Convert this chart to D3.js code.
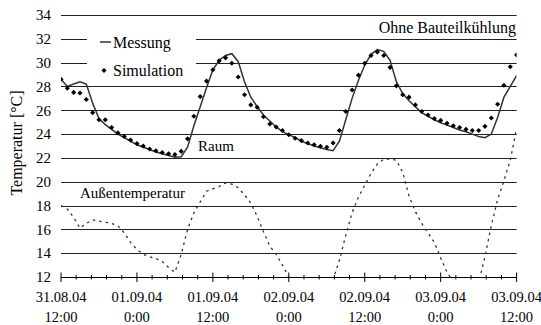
<!DOCTYPE html>
<html>
<head>
<meta charset="utf-8">
<script src="https://cdn.jsdelivr.net/npm/d3@7"></script>
<style>
  body { margin: 0; background: #fff; }
  svg { display: block; }
  text { font-family: "Liberation Serif", "DejaVu Serif", serif; fill: #000; }
</style>
</head>
<body>
<svg id="chart" width="541" height="325"></svg>
<script>
// hourly values from 31.08.04 12:00 to 03.09.04 12:00 (72 h)
const messung = [
  28.6, 28.0, 28.2, 28.4, 28.2, 26.6, 25.3, 24.8, 24.4, 24.0,
  23.7, 23.4, 23.1, 22.9, 22.7, 22.5, 22.35, 22.2, 22.05, 22.1,
  22.9, 24.7, 26.3, 27.9, 29.4, 30.2, 30.6, 30.75, 30.1, 28.4,
  27.1, 26.3, 25.6, 25.1, 24.6, 24.2, 23.95, 23.7, 23.4, 23.2,
  23.0, 22.85, 22.7, 22.6, 23.4, 25.2, 27.0, 28.5, 29.8, 30.7,
  31.1, 30.95, 30.2, 28.4, 27.4, 26.8, 26.3, 25.8, 25.5, 25.2,
  24.95, 24.75, 24.55, 24.35, 24.2, 24.0, 23.8, 23.7, 24.0, 25.4,
  27.1, 28.0, 28.9
];
const simulation = [
  28.6, 27.85, 27.5, 27.45, 26.9, 25.8, 25.2, 25.2, 24.55, 24.1,
  23.8, 23.5, 23.2, 23.0, 22.75, 22.6, 22.45, 22.35, 22.28, 22.55,
  23.6, 25.5, 27.15, 28.45, 29.4, 30.15, 30.4, 29.95, 28.8, 27.3,
  26.45, 26.25, 25.45, 24.85, 24.6, 24.3, 23.95, 23.65, 23.45, 23.25,
  23.1, 22.98, 22.9, 23.25, 24.3, 25.9, 27.7, 28.95, 29.95, 30.6,
  30.9, 30.6, 29.6, 28.05, 27.3, 27.1, 26.45, 25.9, 25.6, 25.3,
  25.15, 24.9, 24.7, 24.55, 24.4, 24.3, 24.3, 24.65, 25.35, 26.5,
  28.1, 29.65, 30.65
];
const aussen = [
  18.0, 17.7, 17.0, 16.1, 16.5, 16.8, 16.7, 16.6, 16.5, 16.3,
  15.7, 14.9, 14.3, 13.9, 13.7, 13.55, 13.3, 12.8, 12.4, 13.9,
  16.0, 17.4, 18.3, 19.2, 19.4, 19.6, 19.9, 19.8, 19.5, 18.9,
  18.2, 17.1, 15.8, 14.6, 13.9, 13.0, 12.0, 11.3, 10.9, 10.6,
  10.5, 10.6, 11.0, 11.8, 13.4, 15.5, 17.4, 18.7, 19.7, 20.7,
  21.5, 21.9, 21.9, 21.8, 20.8, 18.8, 17.5, 16.5, 15.7, 14.9,
  13.6, 12.4, 11.6, 11.0, 10.7, 10.8, 11.5, 13.7, 16.3, 18.5,
  20.1, 21.8, 24.5
];
const yTicks = [12, 14, 16, 18, 20, 22, 24, 26, 28, 30, 32, 34];
const xMajor = [0, 12, 24, 36, 48, 60, 72];
const xMinorStep = 2.4;
const xTickDates = ["31.08.04", "01.09.04", "01.09.04", "02.09.04", "02.09.04", "03.09.04", "03.09.04"];
const xTickTimes = ["12:00", "0:00", "12:00", "0:00", "12:00", "0:00", "12:00"];

const svg = d3.select("#chart");
const x0 = 61, x1 = 516.6, yTop = 15, yBot = 277;

const x = d3.scaleLinear().domain([0, 72]).range([x0, x1]);
const y = d3.scaleLinear().domain([12, 34]).range([yBot, yTop]);

svg.append("defs").append("clipPath").attr("id", "plot")
  .append("rect").attr("x", x0).attr("y", yTop - 2).attr("width", x1 - x0).attr("height", yBot - yTop + 2);

// gridlines
svg.append("g").selectAll("line")
  .data(yTicks.filter(d => d > 12))
  .enter().append("line")
  .attr("x1", x0).attr("x2", x1)
  .attr("y1", d => Math.round(y(d)) + 0.5).attr("y2", d => Math.round(y(d)) + 0.5)
  .attr("stroke", "#222").attr("stroke-width", 1);

// y labels
svg.append("g").selectAll("text")
  .data(yTicks)
  .enter().append("text")
  .attr("x", 51).attr("y", d => y(d))
  .attr("dy", "0.35em").attr("text-anchor", "end")
  .style("font-size", "15px").text(d => d);

// x axis
const xa = svg.append("g");
xa.append("line").attr("x1", x0).attr("x2", x1)
  .attr("y1", yBot + 0.5).attr("y2", yBot + 0.5).attr("stroke", "#000");
const minor = d3.range(0, 72.01, xMinorStep).filter(h => !xMajor.some(m => Math.abs(m - h) < 0.01));
xa.selectAll(".minor").data(minor).enter().append("line")
  .attr("x1", d => x(d)).attr("x2", d => x(d))
  .attr("y1", yBot - 2).attr("y2", yBot + 2.5).attr("stroke", "#000");
xa.selectAll(".major").data(xMajor).enter().append("line")
  .attr("x1", d => x(d)).attr("x2", d => x(d))
  .attr("y1", yBot - 4.5).attr("y2", yBot + 5).attr("stroke", "#000");
const lab = xa.selectAll(".lab").data(xMajor).enter().append("text")
  .attr("text-anchor", "middle").style("font-size", "14.5px");
lab.append("tspan").attr("x", d => x(d)).attr("y", 302).text((d, i) => xTickDates[i]);
lab.append("tspan").attr("x", d => x(d)).attr("y", 322).text((d, i) => xTickTimes[i]);

// axis title
svg.append("text")
  .attr("transform", "translate(22,143) rotate(-90)")
  .attr("text-anchor", "middle").style("font-size", "16px")
  .text("Temperatur [°C]");

const plot = svg.append("g").attr("clip-path", "url(#plot)");

// Außentemperatur
plot.append("path")
  .datum(aussen)
  .attr("d", d3.line().x((d, i) => x(i)).y(d => y(d)))
  .attr("fill", "none").attr("stroke", "#333")
  .attr("stroke-width", 1.3).attr("stroke-dasharray", "2.5,4");

// Messung
plot.append("path")
  .datum(messung)
  .attr("d", d3.line().x((d, i) => x(i)).y(d => y(d)))
  .attr("fill", "none").attr("stroke", "#333").attr("stroke-width", 1.5);

// Simulation
const diamond = d3.symbol().type(d3.symbolSquare).size(13);
plot.selectAll(".sim").data(simulation).enter().append("path")
  .attr("d", diamond)
  .attr("transform", (d, i) => `translate(${x(i)},${y(d)}) rotate(45)`)
  .attr("fill", "#000");

// annotations
svg.append("text").attr("x", 516).attr("y", 33).attr("text-anchor", "end")
  .style("font-size", "16px").text("Ohne Bauteilkühlung");
svg.append("text").attr("x", 198).attr("y", 151).style("font-size", "15px").text("Raum");
svg.append("text").attr("x", 80).attr("y", 198).style("font-size", "15px").text("Außentemperatur");

// legend
const lg = svg.append("g");
lg.append("rect").attr("x", 87).attr("y", 28).attr("width", 109).attr("height", 54).attr("fill", "#fff");
lg.append("line").attr("x1", 100).attr("x2", 111).attr("y1", 42).attr("y2", 42)
  .attr("stroke", "#333").attr("stroke-width", 1.5);
lg.append("text").attr("x", 113).attr("y", 47.5).style("font-size", "16px").text("Messung");
lg.append("path").attr("d", diamond).attr("transform", "translate(104,70.5) rotate(45)").attr("fill", "#000");
lg.append("text").attr("x", 113).attr("y", 76).style("font-size", "16px").text("Simulation");
</script>
</body>
</html>
